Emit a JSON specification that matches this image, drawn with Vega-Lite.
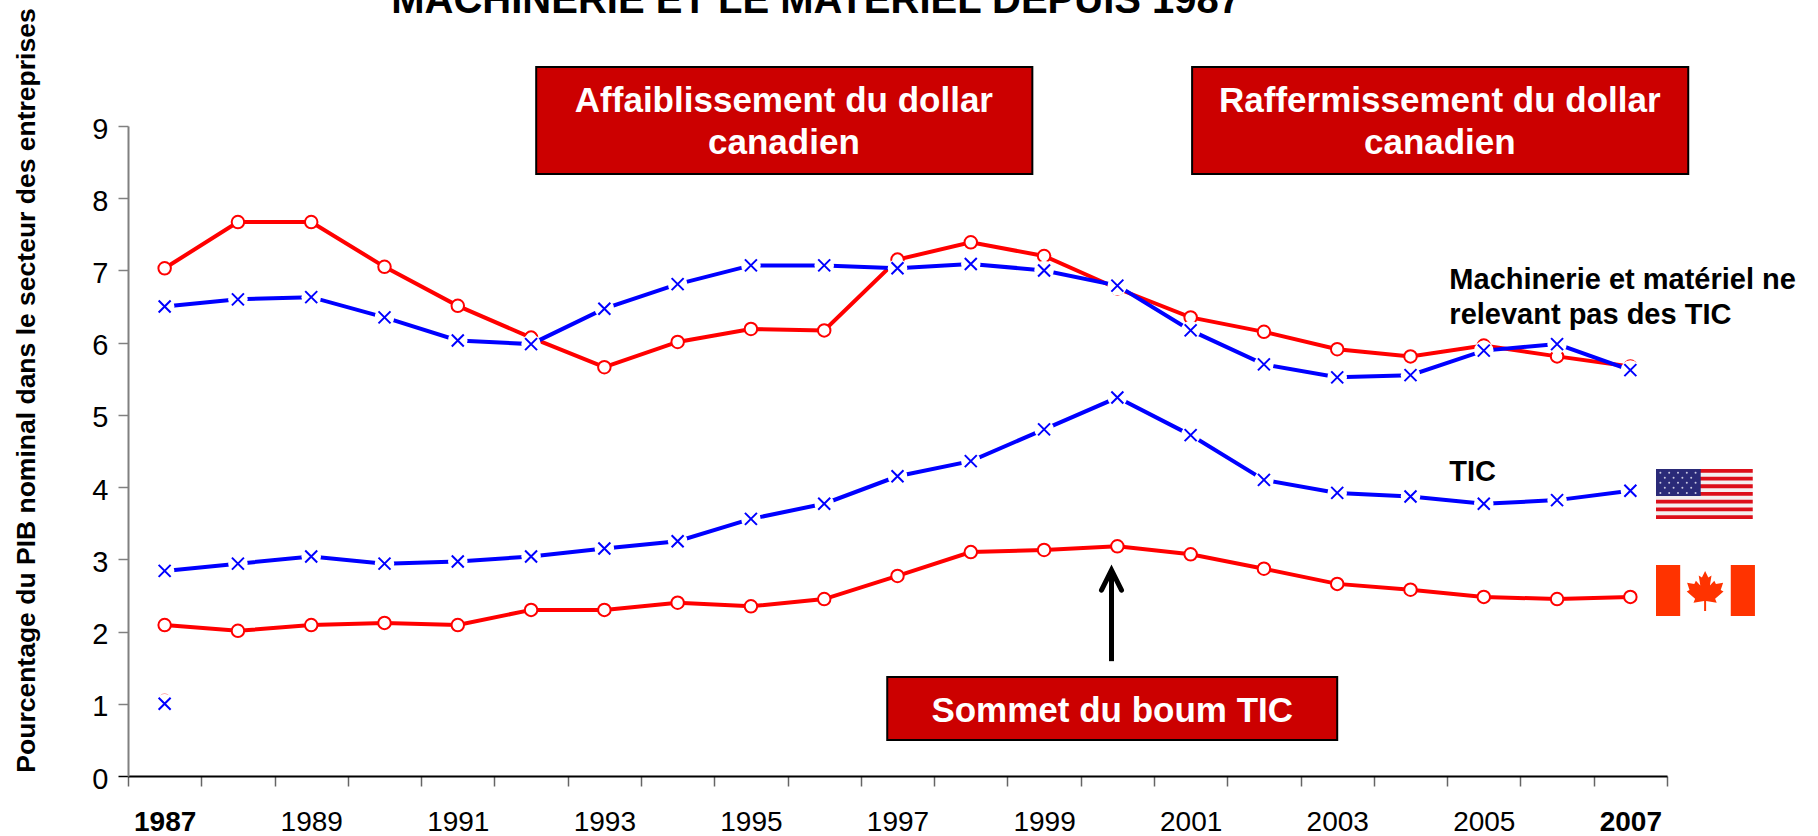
{
"$schema":"https://vega.github.io/schema/vega-lite/v6.json",
"autosize":{"type":"none"},
"padding":{"left":128,"top":126,"right":151,"bottom":60},
"width":1539,"height":650,
"background":"white",
"config":{"view":{"stroke":null},"font":"Liberation Sans"},
"datasets":{
"series":[
{"annee":1987,"part":7.03,"pays":"Canada","categorie":"Hors TIC"},{"annee":1988,"part":7.67,"pays":"Canada","categorie":"Hors TIC"},{"annee":1989,"part":7.67,"pays":"Canada","categorie":"Hors TIC"},{"annee":1990,"part":7.05,"pays":"Canada","categorie":"Hors TIC"},{"annee":1991,"part":6.51,"pays":"Canada","categorie":"Hors TIC"},{"annee":1992,"part":6.07,"pays":"Canada","categorie":"Hors TIC"},{"annee":1993,"part":5.66,"pays":"Canada","categorie":"Hors TIC"},{"annee":1994,"part":6.01,"pays":"Canada","categorie":"Hors TIC"},{"annee":1995,"part":6.19,"pays":"Canada","categorie":"Hors TIC"},{"annee":1996,"part":6.17,"pays":"Canada","categorie":"Hors TIC"},{"annee":1997,"part":7.15,"pays":"Canada","categorie":"Hors TIC"},{"annee":1998,"part":7.39,"pays":"Canada","categorie":"Hors TIC"},{"annee":1999,"part":7.20,"pays":"Canada","categorie":"Hors TIC"},{"annee":2000,"part":6.75,"pays":"Canada","categorie":"Hors TIC"},{"annee":2001,"part":6.35,"pays":"Canada","categorie":"Hors TIC"},{"annee":2002,"part":6.15,"pays":"Canada","categorie":"Hors TIC"},{"annee":2003,"part":5.91,"pays":"Canada","categorie":"Hors TIC"},{"annee":2004,"part":5.81,"pays":"Canada","categorie":"Hors TIC"},{"annee":2005,"part":5.96,"pays":"Canada","categorie":"Hors TIC"},{"annee":2006,"part":5.81,"pays":"Canada","categorie":"Hors TIC"},{"annee":2007,"part":5.67,"pays":"Canada","categorie":"Hors TIC"},
{"annee":1987,"part":2.09,"pays":"Canada","categorie":"TIC"},{"annee":1988,"part":2.01,"pays":"Canada","categorie":"TIC"},{"annee":1989,"part":2.09,"pays":"Canada","categorie":"TIC"},{"annee":1990,"part":2.12,"pays":"Canada","categorie":"TIC"},{"annee":1991,"part":2.09,"pays":"Canada","categorie":"TIC"},{"annee":1992,"part":2.30,"pays":"Canada","categorie":"TIC"},{"annee":1993,"part":2.30,"pays":"Canada","categorie":"TIC"},{"annee":1994,"part":2.40,"pays":"Canada","categorie":"TIC"},{"annee":1995,"part":2.35,"pays":"Canada","categorie":"TIC"},{"annee":1996,"part":2.45,"pays":"Canada","categorie":"TIC"},{"annee":1997,"part":2.77,"pays":"Canada","categorie":"TIC"},{"annee":1998,"part":3.10,"pays":"Canada","categorie":"TIC"},{"annee":1999,"part":3.13,"pays":"Canada","categorie":"TIC"},{"annee":2000,"part":3.18,"pays":"Canada","categorie":"TIC"},{"annee":2001,"part":3.07,"pays":"Canada","categorie":"TIC"},{"annee":2002,"part":2.87,"pays":"Canada","categorie":"TIC"},{"annee":2003,"part":2.66,"pays":"Canada","categorie":"TIC"},{"annee":2004,"part":2.58,"pays":"Canada","categorie":"TIC"},{"annee":2005,"part":2.48,"pays":"Canada","categorie":"TIC"},{"annee":2006,"part":2.45,"pays":"Canada","categorie":"TIC"},{"annee":2007,"part":2.48,"pays":"Canada","categorie":"TIC"},
{"annee":1987,"part":6.50,"pays":"États-Unis","categorie":"Hors TIC"},{"annee":1988,"part":6.60,"pays":"États-Unis","categorie":"Hors TIC"},{"annee":1989,"part":6.63,"pays":"États-Unis","categorie":"Hors TIC"},{"annee":1990,"part":6.35,"pays":"États-Unis","categorie":"Hors TIC"},{"annee":1991,"part":6.03,"pays":"États-Unis","categorie":"Hors TIC"},{"annee":1992,"part":5.98,"pays":"États-Unis","categorie":"Hors TIC"},{"annee":1993,"part":6.47,"pays":"États-Unis","categorie":"Hors TIC"},{"annee":1994,"part":6.81,"pays":"États-Unis","categorie":"Hors TIC"},{"annee":1995,"part":7.07,"pays":"États-Unis","categorie":"Hors TIC"},{"annee":1996,"part":7.07,"pays":"États-Unis","categorie":"Hors TIC"},{"annee":1997,"part":7.03,"pays":"États-Unis","categorie":"Hors TIC"},{"annee":1998,"part":7.09,"pays":"États-Unis","categorie":"Hors TIC"},{"annee":1999,"part":7.00,"pays":"États-Unis","categorie":"Hors TIC"},{"annee":2000,"part":6.79,"pays":"États-Unis","categorie":"Hors TIC"},{"annee":2001,"part":6.17,"pays":"États-Unis","categorie":"Hors TIC"},{"annee":2002,"part":5.70,"pays":"États-Unis","categorie":"Hors TIC"},{"annee":2003,"part":5.52,"pays":"États-Unis","categorie":"Hors TIC"},{"annee":2004,"part":5.55,"pays":"États-Unis","categorie":"Hors TIC"},{"annee":2005,"part":5.89,"pays":"États-Unis","categorie":"Hors TIC"},{"annee":2006,"part":5.98,"pays":"États-Unis","categorie":"Hors TIC"},{"annee":2007,"part":5.62,"pays":"États-Unis","categorie":"Hors TIC"},
{"annee":1987,"part":2.84,"pays":"États-Unis","categorie":"TIC"},{"annee":1988,"part":2.94,"pays":"États-Unis","categorie":"TIC"},{"annee":1989,"part":3.04,"pays":"États-Unis","categorie":"TIC"},{"annee":1990,"part":2.94,"pays":"États-Unis","categorie":"TIC"},{"annee":1991,"part":2.97,"pays":"États-Unis","categorie":"TIC"},{"annee":1992,"part":3.04,"pays":"États-Unis","categorie":"TIC"},{"annee":1993,"part":3.15,"pays":"États-Unis","categorie":"TIC"},{"annee":1994,"part":3.25,"pays":"États-Unis","categorie":"TIC"},{"annee":1995,"part":3.56,"pays":"États-Unis","categorie":"TIC"},{"annee":1996,"part":3.77,"pays":"États-Unis","categorie":"TIC"},{"annee":1997,"part":4.15,"pays":"États-Unis","categorie":"TIC"},{"annee":1998,"part":4.36,"pays":"États-Unis","categorie":"TIC"},{"annee":1999,"part":4.80,"pays":"États-Unis","categorie":"TIC"},{"annee":2000,"part":5.24,"pays":"États-Unis","categorie":"TIC"},{"annee":2001,"part":4.72,"pays":"États-Unis","categorie":"TIC"},{"annee":2002,"part":4.10,"pays":"États-Unis","categorie":"TIC"},{"annee":2003,"part":3.92,"pays":"États-Unis","categorie":"TIC"},{"annee":2004,"part":3.87,"pays":"États-Unis","categorie":"TIC"},{"annee":2005,"part":3.77,"pays":"États-Unis","categorie":"TIC"},{"annee":2006,"part":3.82,"pays":"États-Unis","categorie":"TIC"},{"annee":2007,"part":3.95,"pays":"États-Unis","categorie":"TIC"}
],
"legende_ca":[{"annee":1987,"part":1.05}],
"legende_us":[{"annee":1987,"part":1}],
"encadres":[
{"annee":1992.07,"annee2":1998.84,"part":9.817,"part2":8.336},
{"annee":2001.02,"annee2":2007.79,"part":9.817,"part2":8.336},
{"annee":1996.86,"annee2":2003.0,"part":1.371,"part2":0.498}
],
"textesBlancs":[
{"annee":1995.45,"part":9.346,"texte":"Affaiblissement du dollar"},
{"annee":1995.45,"part":8.765,"texte":"canadien"},
{"annee":2004.4,"part":9.346,"texte":"Raffermissement du dollar"},
{"annee":2004.4,"part":8.765,"texte":"canadien"},
{"annee":1999.93,"part":0.9,"texte":"Sommet du boum TIC"}
],
"etiquettes":[
{"annee":2004.53,"part":6.868,"texte":"Machinerie et matériel ne"},
{"annee":2004.53,"part":6.383,"texte":"relevant pas des TIC"},
{"annee":2004.53,"part":4.209,"texte":"TIC"}
],
"titre":[{"annee":1995.89,"part":10.565,"texte":"MACHINERIE ET LE MATÉRIEL DEPUIS 1987"}],
"fleche":[{"annee":1999.92,"part":2.85,"part2":1.59}],
"blanc_us":[{"annee":2007.35,"annee2":2008.67,"part":4.251,"part2":3.559}],
"bandes":[
{"annee":2007.35,"annee2":2008.67,"part":4.251,"part2":4.198},
{"annee":2007.35,"annee2":2008.67,"part":4.145,"part2":4.092},
{"annee":2007.35,"annee2":2008.67,"part":4.038,"part2":3.985},
{"annee":2007.35,"annee2":2008.67,"part":3.932,"part2":3.879},
{"annee":2007.35,"annee2":2008.67,"part":3.826,"part2":3.772},
{"annee":2007.35,"annee2":2008.67,"part":3.719,"part2":3.666},
{"annee":2007.35,"annee2":2008.67,"part":3.612,"part2":3.559}
],
"canton":[{"annee":2007.35,"annee2":2007.96,"part":4.251,"part2":3.877}],
"etoiles":[
{"annee":2007.41,"part":4.2},{"annee":2007.53,"part":4.2},{"annee":2007.65,"part":4.2},{"annee":2007.77,"part":4.2},{"annee":2007.89,"part":4.2},
{"annee":2007.47,"part":4.13},{"annee":2007.59,"part":4.13},{"annee":2007.71,"part":4.13},{"annee":2007.83,"part":4.13},
{"annee":2007.41,"part":4.06},{"annee":2007.53,"part":4.06},{"annee":2007.65,"part":4.06},{"annee":2007.77,"part":4.06},{"annee":2007.89,"part":4.06},
{"annee":2007.47,"part":3.99},{"annee":2007.59,"part":3.99},{"annee":2007.71,"part":3.99},{"annee":2007.83,"part":3.99},
{"annee":2007.41,"part":3.92},{"annee":2007.53,"part":3.92},{"annee":2007.65,"part":3.92},{"annee":2007.77,"part":3.92},{"annee":2007.89,"part":3.92}
],
"barres_ca":[
{"annee":2007.35,"annee2":2007.68,"part":2.922,"part2":2.215},
{"annee":2008.37,"annee2":2008.7,"part":2.922,"part2":2.215}
],
"feuille":[{"annee":2008.02,"part":2.56}]
},
"encoding":{
"x":{"field":"annee","type":"quantitative","scale":{"domain":[1986.5,2007.5],"nice":false,"zero":false},"axis":null},
"y":{"field":"part","type":"quantitative","scale":{"domain":[0,9],"nice":false},"axis":null}
},
"resolve":{"axis":{"x":"independent","y":"independent"}},
"layer":[
{"data":{"name":"series"},"transform":[{"filter":"datum.pays==='Canada'"}],
 "mark":{"type":"line","color":"#ff0000","strokeWidth":4},
 "encoding":{"detail":{"field":"categorie"},
 "x":{"field":"annee","type":"quantitative","scale":{"domain":[1986.5,2007.5],"nice":false,"zero":false},
  "axis":{"orient":"bottom","values":[1986.5,1987.5,1988.5,1989.5,1990.5,1991.5,1992.5,1993.5,1994.5,1995.5,1996.5,1997.5,1998.5,1999.5,2000.5,2001.5,2002.5,2003.5,2004.5,2005.5,2006.5,2007.5],"labels":false,"title":null,"grid":false,"tickSize":10,"tickWidth":1.5,"tickColor":"#666666","domainColor":"#000000","domainWidth":2}},
 "y":{"field":"part","type":"quantitative","scale":{"domain":[0,9],"nice":false},
  "axis":{"orient":"left","values":[0,1,2,3,4,5,6,7,8,9],"grid":false,"tickSize":10,"tickWidth":1.5,"tickColor":{"condition":{"test":"datum.value==0","value":"#000000"},"value":"#808080"},"domainColor":"#808080","domainWidth":2,"labelFont":"Liberation Sans","labelFontSize":29,"labelColor":"#000000","labelPadding":10,"labelOffset":3,
   "title":"Pourcentage du PIB nominal dans le secteur des entreprises","titleFont":"Liberation Sans","titleFontSize":26.5,"titleFontWeight":"bold","titleColor":"#000000","titleX":-102,"titleY":264,"titleAngle":-90,"titleAlign":"center","titleBaseline":"middle"}}}},
{"data":{"name":"series"},"transform":[{"filter":"datum.pays==='Canada'"}],
 "mark":{"type":"point","shape":"circle","size":156,"filled":false,"fill":"#ffffff","fillOpacity":1,"stroke":"#ff0000","strokeWidth":2,"opacity":1},
 "encoding":{
 "x":{"field":"annee","type":"quantitative","scale":{"domain":[1986.5,2007.5],"nice":false,"zero":false},
  "axis":{"orient":"bottom","values":[1987,1989,1991,1993,1995,1997,1999,2001,2003,2005,2007],"format":"d","ticks":false,"domain":false,"title":null,"grid":false,"labelFont":"Liberation Sans","labelFontSize":28,"labelColor":"#000000","labelPadding":32,"labelFontWeight":{"condition":{"test":"datum.value==1987||datum.value==2007","value":"bold"},"value":"normal"}}}}},
{"data":{"name":"legende_ca"},
 "mark":{"type":"point","shape":"circle","size":156,"filled":false,"stroke":"#ff0000","strokeWidth":1,"opacity":0.6}},
{"data":{"name":"series"},"transform":[{"filter":"datum.pays==='États-Unis'"}],
 "mark":{"type":"line","color":"#0000ff","strokeWidth":4},
 "encoding":{"detail":{"field":"categorie"}}},
{"data":{"name":"series"},"transform":[{"filter":"datum.pays==='États-Unis'"}],
 "mark":{"type":"point","shape":"circle","size":380,"filled":true,"color":"#ffffff","opacity":1}},
{"data":{"name":"legende_us"},
 "mark":{"type":"point","shape":"circle","size":380,"filled":true,"color":"#ffffff","opacity":1}},
{"data":{"name":"series"},"transform":[{"filter":"datum.pays==='États-Unis'"}],
 "mark":{"type":"point","shape":"M-1,-1L1,1M-1,1L1,-1","size":144,"filled":false,"stroke":"#0000ff","strokeWidth":2,"opacity":1}},
{"data":{"name":"legende_us"},
 "mark":{"type":"point","shape":"M-1,-1L1,1M-1,1L1,-1","size":144,"filled":false,"stroke":"#0000ff","strokeWidth":2,"opacity":1}},
{"data":{"name":"encadres"},
 "mark":{"type":"rect","fill":"#cc0000","stroke":"#000000","strokeWidth":2},
 "encoding":{"x2":{"field":"annee2"},"y2":{"field":"part2"}}},
{"data":{"name":"textesBlancs"},
 "mark":{"type":"text","font":"Liberation Sans","fontWeight":"bold","fontSize":35,"color":"#ffffff","align":"center","baseline":"middle"},
 "encoding":{"text":{"field":"texte"}}},
{"data":{"name":"etiquettes"},
 "mark":{"type":"text","font":"Liberation Sans","fontWeight":"bold","fontSize":29,"color":"#000000","align":"left","baseline":"middle"},
 "encoding":{"text":{"field":"texte"}}},
{"data":{"name":"titre"},
 "mark":{"type":"text","font":"Liberation Sans","fontWeight":"bold","fontSize":40,"color":"#000000","align":"center","baseline":"alphabetic"},
 "encoding":{"text":{"field":"texte"}}},
{"data":{"name":"fleche"},
 "mark":{"type":"rule","color":"#000000","strokeWidth":5},
 "encoding":{"y2":{"field":"part2"}}},
{"data":{"name":"fleche"},
 "mark":{"type":"point","shape":"M-0.5,1L0,0L0.5,1","size":1600,"filled":false,"stroke":"#000000","strokeWidth":5,"strokeCap":"round","opacity":1}},
{"data":{"name":"blanc_us"},"mark":{"type":"rect","fill":"#f4f0f0"},"encoding":{"x2":{"field":"annee2"},"y2":{"field":"part2"}}},
{"data":{"name":"bandes"},"mark":{"type":"rect","fill":"#dd0f1a"},"encoding":{"x2":{"field":"annee2"},"y2":{"field":"part2"}}},
{"data":{"name":"canton"},"mark":{"type":"rect","fill":"#2a2a78"},"encoding":{"x2":{"field":"annee2"},"y2":{"field":"part2"}}},
{"data":{"name":"etoiles"},"mark":{"type":"point","shape":"circle","size":4,"filled":true,"color":"#c8c8e0","opacity":1}},
{"data":{"name":"barres_ca"},"mark":{"type":"rect","fill":"#ff3300"},"encoding":{"x2":{"field":"annee2"},"y2":{"field":"part2"}}},
{"data":{"name":"feuille"},"mark":{"type":"point","shape":"M0,-1L0.16,-0.68L0.32,-0.78L0.24,-0.28L0.46,-0.52L0.54,-0.36L0.9,-0.42L0.78,-0.06L0.92,0.02L0.5,0.38L0.58,0.58L0.05,0.5L0.05,1L-0.05,1L-0.05,0.5L-0.58,0.58L-0.5,0.38L-0.92,0.02L-0.78,-0.06L-0.9,-0.42L-0.54,-0.36L-0.46,-0.52L-0.24,-0.28L-0.32,-0.78L-0.16,-0.68Z","size":1600,"filled":true,"color":"#ff3300","opacity":1}}
]
}
